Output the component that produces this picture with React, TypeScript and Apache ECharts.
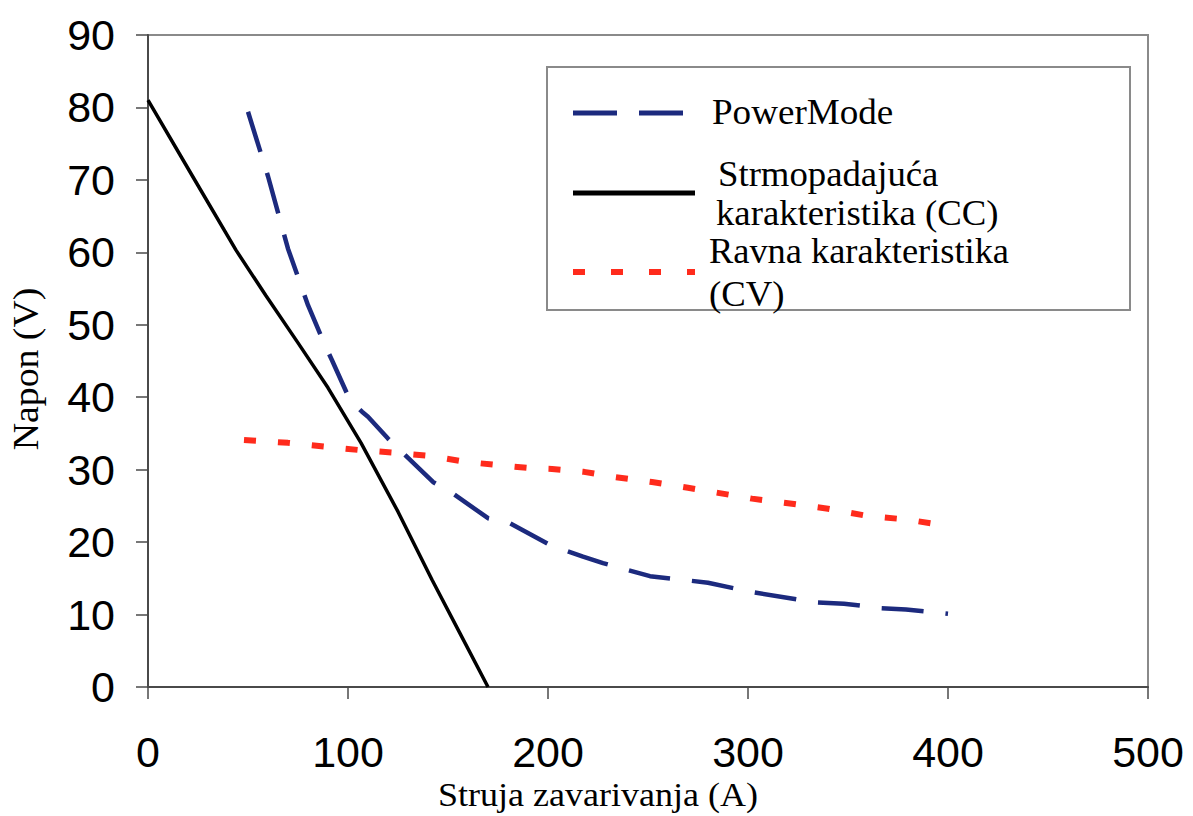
import React, { useEffect, useRef } from "react";
import * as echarts from "echarts";

// X axis: Struja zavarivanja (A); Y axis: Napon (V)
const xTickMin = 0;
const xTickMax = 500;
const xTickStep = 100;
const yTickMin = 0;
const yTickMax = 90;
const yTickStep = 10;

// PowerMode (dashed blue)
const pmCurrent = [50, 60, 70, 80, 88, 92, 101, 107, 110, 120, 142.5, 152, 170, 181, 201, 217.5, 227.5, 251, 280, 302, 333.5, 348, 366, 379, 400];
const pmVoltage = [79.4, 70.5, 60.5, 52.7, 47.5, 45.1, 39.6, 38, 37.3, 34.3, 28.3, 26.8, 23.3, 22.6, 19.6, 18, 17.1, 15.3, 14.4, 13.1, 11.7, 11.5, 10.9, 10.7, 10.1];

// Strmopadajuća karakteristika (CC) (solid black)
const ccCurrent = [0, 22.5, 44, 59, 75, 90, 106.5, 125, 142, 156, 170];
const ccVoltage = [81, 70.4, 60.3, 54.0, 47.5, 41.3, 33.7, 24.2, 14.8, 7.4, 0];

// Ravna karakteristika (CV) (dotted red)
const cvCurrent = [48, 70, 88, 106, 125, 141, 158, 176, 192, 202, 218, 233, 252, 270, 285, 302, 322, 340, 360, 380, 400];
const cvVoltage = [34.1, 33.7, 33.2, 32.7, 32.3, 31.9, 31.1, 30.6, 30.2, 30.1, 29.7, 29, 28.3, 27.5, 26.8, 26, 25.3, 24.6, 23.6, 23.1, 22.2];

const seriesNames = ["PowerMode", "Strmopadajuća karakteristika (CC)", "Ravna karakteristika (CV)"];
const legendLines = [["PowerMode"], ["Strmopadajuća", "karakteristika (CC)"], ["Ravna karakteristika", "(CV)"]];

const xTitle = "Struja zavarivanja (A)";
const yTitle = "Napon (V)";

const BLUE = "#1c2a7e";
const BLACK = "#000000";
const RED = "#ff2b1c";
const SERIF = '"Liberation Serif", "Times New Roman", serif';
const SANS = '"Liberation Sans", Arial, sans-serif';

const zip = (xs: number[], ys: number[]) => xs.map((x, i) => [x, ys[i]]);

export default function App() {
  const ref = useRef<HTMLDivElement>(null);

  useEffect(() => {
    if (!ref.current) return;
    const chart = echarts.init(ref.current, null, { renderer: "svg" });

    const serifText = (text: string, x: number, y: number, size: number, stretch: number, align: string, rotation = 0) => ({
      type: "text",
      x,
      y,
      rotation,
      scaleX: stretch,
      z: 11,
      style: { text, x: 0, y: 0, font: `${size}px ${SERIF}`, fill: "#000", verticalAlign: "middle", textAlign: align },
    });

    chart.setOption({
      animation: false,
      backgroundColor: "#ffffff",
      grid: {
        left: 148,
        right: 45,
        top: 35,
        bottom: 129,
        show: true,
        borderColor: "#8a8a8a",
        borderWidth: 2,
        backgroundColor: "transparent",
      },
      xAxis: {
        type: "value",
        min: xTickMin,
        max: xTickMax,
        interval: xTickStep,
        axisLine: { show: true, lineStyle: { color: "#4a4a4a", width: 2 } },
        axisTick: { show: true, inside: false, length: 12, lineStyle: { color: "#4a4a4a", width: 1.5 } },
        axisLabel: { fontFamily: SANS, fontSize: 43, color: "#000", margin: 43 },
        splitLine: { show: false },
      },
      yAxis: {
        type: "value",
        min: yTickMin,
        max: yTickMax,
        interval: yTickStep,
        axisLine: { show: true, lineStyle: { color: "#4a4a4a", width: 2 } },
        axisTick: { show: true, inside: false, length: 12, lineStyle: { color: "#4a4a4a", width: 1.5 } },
        axisLabel: { fontFamily: SANS, fontSize: 43, color: "#000", margin: 33 },
        splitLine: { show: false },
      },
      series: [
        {
          name: seriesNames[2],
          type: "line",
          data: zip(cvCurrent, cvVoltage),
          showSymbol: false,
          symbol: "none",
          lineStyle: { color: RED, width: 6, type: [12, 22], cap: "butt" },
          z: 2,
        },
        {
          name: seriesNames[0],
          type: "line",
          data: zip(pmCurrent, pmVoltage),
          showSymbol: false,
          symbol: "none",
          lineStyle: { color: BLUE, width: 4.5, type: [42, 22], cap: "butt" },
          z: 3,
        },
        {
          name: seriesNames[1],
          type: "line",
          data: zip(ccCurrent, ccVoltage),
          showSymbol: false,
          symbol: "none",
          lineStyle: { color: BLACK, width: 3.5, type: "solid" },
          z: 4,
        },
      ],
      graphic: [
        {
          type: "rect",
          shape: { x: 547, y: 67, width: 583, height: 243 },
          style: { fill: "#ffffff", stroke: "#8a8a8a", lineWidth: 2 },
          z: 10,
        },
        {
          type: "line",
          shape: { x1: 573, y1: 113, x2: 695, y2: 113 },
          style: { stroke: BLUE, lineWidth: 5, lineDash: [44, 22] },
          z: 11,
        },
        {
          type: "line",
          shape: { x1: 573, y1: 193, x2: 695, y2: 193 },
          style: { stroke: BLACK, lineWidth: 5 },
          z: 11,
        },
        {
          type: "line",
          shape: { x1: 573, y1: 272, x2: 695, y2: 272 },
          style: { stroke: RED, lineWidth: 6, lineDash: [12, 26] },
          z: 11,
        },
        serifText(legendLines[0][0], 712, 112, 35, 1.06, "left"),
        serifText(legendLines[1][0], 718, 174, 35, 1.05, "left"),
        serifText(legendLines[1][1], 716, 213, 35, 1.05, "left"),
        serifText(legendLines[2][0], 709, 251, 35, 1.04, "left"),
        serifText(legendLines[2][1], 709, 294, 35, 1.05, "left"),
        serifText(xTitle, 598, 795, 34, 1.06, "center"),
        serifText(yTitle, 26, 369, 35, 1.08, "center", Math.PI / 2),
      ],
    });

    return () => chart.dispose();
  }, []);

  return (
    <div
      ref={ref}
      style={{ position: "fixed", left: 0, top: 0, width: 1193, height: 816, background: "#fff" }}
    />
  );
}
